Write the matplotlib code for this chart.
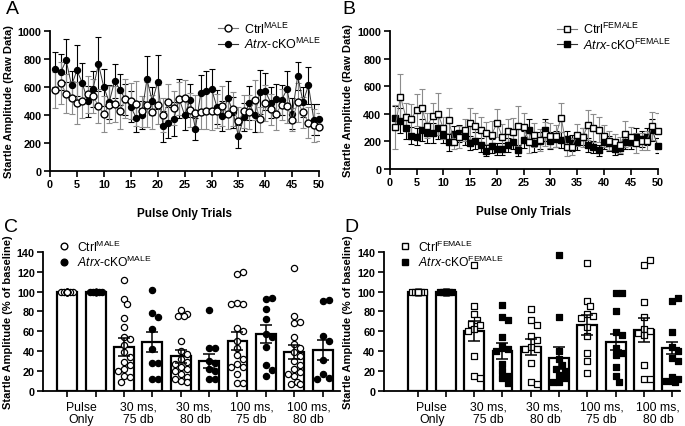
import numpy as np
import matplotlib
matplotlib.use("Agg")
import matplotlib.pyplot as plt
from matplotlib.lines import Line2D

plt.rcParams['font.family'] = ['Liberation Sans', 'DejaVu Sans']
plt.rcParams['mathtext.fontset'] = 'custom'
plt.rcParams['mathtext.rm'] = 'Liberation Sans'
plt.rcParams['mathtext.it'] = 'Liberation Sans:italic'
plt.rcParams['mathtext.bf'] = 'Liberation Sans:bold'

# ---- panel A / B : pulse only trials (raw data) ----
trials = list(range(1, 51))

ctrl_m = [580, 630, 552, 524, 488, 500, 548, 536, 464, 407, 474, 481, 429, 517, 500,
          481, 426, 474, 421, 474, 402, 493, 452, 517, 521, 438, 414, 421, 431, 431,
          431, 464, 410, 443, 355, 426, 421, 507, 369, 488, 440, 410, 474, 464, 367,
          490, 421, 345, 326, 314]
ctrl_m_err = [130, 150, 140, 120, 150, 120, 130, 120, 120, 130, 130, 130, 130, 140, 130,
              160, 110, 160, 120, 140, 120, 130, 120, 120, 130, 120, 130, 120, 130, 140,
              120, 140, 110, 120, 100, 120, 120, 140, 90, 130, 110, 120, 110, 120, 80,
              140, 110, 110, 120, 100]
atrx_m = [726, 707, 790, 612, 719, 629, 498, 588, 764, 598, 493, 643, 581, 512, 460,
          381, 398, 655, 498, 636, 321, 345, 374, 517, 400, 505, 302, 557, 574, 588,
          457, 393, 524, 421, 248, 386, 488, 398, 564, 569, 488, 512, 507, 583, 410,
          679, 493, 612, 367, 369]
atrx_m_err = [125, 130, 155, 100, 180, 140, 110, 130, 190, 130, 120, 120, 110, 110, 110,
              100, 100, 165, 100, 190, 110, 110, 120, 140, 110, 120, 80, 130, 140, 140,
              120, 110, 120, 110, 80, 100, 120, 120, 160, 130, 110, 110, 110, 130, 110,
              100, 110, 130, 110, 110]

ctrl_f = [301, 525, 378, 361, 429, 439, 313, 381, 398, 296, 354, 193, 234, 282, 330,
          313, 284, 260, 246, 333, 234, 275, 270, 308, 304, 198, 246, 210, 253, 241,
          241, 373, 157, 161, 246, 229, 318, 296, 284, 241, 205, 193, 173, 253, 234,
          188, 200, 205, 313, 277]
ctrl_f_err = [160, 165, 100, 110, 115, 140, 90, 100, 150, 80, 90, 50, 80, 80, 110,
              90, 90, 80, 100, 100, 90, 90, 100, 145, 100, 80, 90, 80, 90, 90,
              80, 105, 60, 60, 80, 70, 110, 100, 90, 80, 70, 60, 60, 95, 70,
              70, 60, 70, 100, 130]
atrx_f = [369, 349, 294, 241, 234, 284, 260, 260, 294, 246, 193, 253, 258, 236, 186,
          205, 173, 133, 169, 145, 145, 176, 193, 137, 212, 282, 186, 205, 282, 205,
          217, 210, 217, 188, 193, 234, 176, 157, 137, 198, 186, 145, 152, 198, 198,
          234, 217, 234, 284, 169]
atrx_f_err = [90, 90, 80, 60, 60, 80, 70, 70, 80, 60, 60, 60, 60, 60, 50,
              60, 50, 40, 50, 45, 45, 50, 50, 40, 60, 80, 60, 60, 80, 60,
              60, 60, 60, 55, 55, 60, 50, 45, 40, 55, 55, 45, 45, 55, 55,
              60, 60, 60, 80, 55]

# ---- panel C / D : % of baseline ----
groups = ['Pulse\nOnly', '30 ms,\n75 db', '30 ms,\n80 db', '100 ms,\n75 db', '100 ms,\n80 db']

c_ctrl_mean = [100, 44, 35, 50, 39]
c_ctrl_sem = [0, 9, 6.5, 9, 7]
c_atrx_mean = [100, 49, 30, 57, 41]
c_atrx_sem = [0, 10, 7, 9, 10]
c_ctrl_pts = [
    [100, 100, 100, 100, 100, 100, 100, 100, 100, 100, 100, 100, 100, 100, 100, 100, 100],
    [112, 93, 87, 73, 64, 54, 52, 46, 39, 34, 29, 26, 22, 20, 15, 14, 9],
    [81, 77, 75, 75, 50, 40, 37, 32, 29, 27, 24, 22, 20, 17, 14, 12, 10, 9],
    [118, 120, 88, 87, 87, 63, 60, 50, 43, 36, 32, 27, 24, 24, 17, 8, 8],
    [124, 75, 68, 69, 54, 47, 43, 39, 35, 30, 26, 22, 19, 17, 15, 9, 7, 7],
]
c_atrx_pts = [
    [100, 100, 100, 100, 100, 100, 100, 100, 100, 100],
    [102, 78, 74, 62, 42, 28, 28, 12, 12],
    [81, 43, 43, 30, 28, 22, 20, 12, 12],
    [93, 94, 82, 72, 57, 54, 44, 26, 21, 15],
    [91, 92, 55, 50, 31, 17, 13, 12],
]

d_ctrl_mean = [100, 60, 44, 66, 61]
d_ctrl_sem = [0, 10, 8, 10, 12]
d_atrx_mean = [100, 40, 33, 49, 43]
d_atrx_sem = [0, 8, 11, 8, 6]
d_ctrl_pts = [
    [100, 100, 100, 100, 100, 100, 100, 100, 100, 100, 100],
    [127, 85, 77, 71, 67, 66, 62, 60, 35, 15, 13],
    [82, 71, 66, 55, 51, 44, 42, 42, 28, 9, 7],
    [129, 91, 85, 77, 75, 73, 64, 55, 38, 30, 18],
    [127, 132, 89, 74, 62, 60, 58, 56, 26, 12, 12],
]
d_atrx_pts = [
    [100, 100, 100, 100, 100, 100, 100, 100, 100, 100, 100, 100],
    [86, 74, 71, 54, 45, 42, 40, 27, 20, 15, 13, 8],
    [137, 74, 40, 32, 26, 22, 20, 16, 13, 9, 9],
    [99, 99, 80, 59, 56, 43, 38, 36, 24, 15, 9],
    [91, 94, 59, 44, 40, 33, 30, 14, 12, 10, 10, 9],
]


def swarm(vals, xpx, ypx, d=6.0, maxoff=0.3):
    # simple beeswarm, offsets in x data units
    step = d / 2.0
    lim = maxoff * xpx
    cands = [0.0]
    k = 1
    while k * step <= lim:
        cands += [k * step, -k * step]
        k += 1
    placed = []
    offs = []
    for v in vals:
        y = v * ypx
        best, bestd = 0.0, -1
        for c in cands:
            md = min([np.hypot(c - px, y - py) for px, py in placed] + [1e9])
            if md >= d:
                best = c
                break
            if md > bestd:
                best, bestd = c, md
        placed.append((best, y))
        offs.append(best / xpx)
    return np.array(offs)


fig = plt.figure(figsize=(6.85, 4.27), dpi=100)


def style_axes(ax):
    for s in ['top', 'right']:
        ax.spines[s].set_visible(False)
    for s in ['left', 'bottom']:
        ax.spines[s].set_linewidth(1.3)
    ax.tick_params(direction='out', length=4, width=1.2, labelsize=7.8, pad=2)
    for lab in ax.get_yticklabels():
        lab.set_fontweight('bold')


def line_panel(ax, ctrl, ctrl_err, atrx, atrx_err, mk, sex):
    ax.errorbar(trials, atrx, yerr=atrx_err, fmt='none', ecolor='black',
                elinewidth=0.8, capsize=2, capthick=0.8, zorder=2)
    ax.errorbar(trials, ctrl, yerr=ctrl_err, fmt='none', ecolor='#8c8c8c',
                elinewidth=0.8, capsize=2, capthick=0.8, zorder=2)
    ax.plot(trials, atrx, color='#333333', lw=0.7, marker=mk, ms=4.3,
            mfc='black', mec='black', zorder=3, clip_on=False)
    ax.plot(trials, ctrl, color='#777777', lw=0.7, marker=mk, ms=5,
            mfc='white', mec='black', mew=1, zorder=4, clip_on=False)
    ax.set_xlim(0, 50)
    ax.set_ylim(0, 1000)
    ax.set_xticks(range(0, 51, 5))
    ax.set_yticks(range(0, 1001, 200))
    style_axes(ax)
    for lab in ax.get_xticklabels():
        lab.set_fontweight('bold')
    ax.set_xlabel('Pulse Only Trials', fontsize=8.5, fontweight='bold', labelpad=13)
    ax.set_ylabel('Startle Amplitude (Raw Data)', fontsize=8, fontweight='bold', labelpad=3)
    h = [Line2D([], [], color='#777777', lw=0.8, marker=mk, ms=5, mfc='white', mec='black'),
         Line2D([], [], color='#333333', lw=0.8, marker=mk, ms=4.3, mfc='black', mec='black')]
    labs = [r'Ctrl$^{\mathrm{%s}}$' % sex, r'$\mathit{Atrx}$-cKO$^{\mathrm{%s}}$' % sex]
    ax.legend(h, labs, loc='upper left', bbox_to_anchor=(0.6, 1.12), frameon=False,
              fontsize=9, handlelength=1.6, handletextpad=0.5, labelspacing=0.05,
              borderpad=0)


def bar_panel(ax, cm, cs, am, asem, cpts, apts, mk, sex, xlim):
    xpx = 28.4
    ypx = 139 / 140.0
    pos = np.arange(10)
    cpos = pos[0::2]
    apos = pos[1::2]
    ax.bar(cpos, cm, width=0.7, color='white', edgecolor='black', lw=1.6, zorder=1)
    ax.bar(apos, am, width=0.7, color='white', edgecolor='black', lw=1.6, zorder=1)
    for i in range(5):
        vals = np.array(cpts[i])
        off = swarm(vals, xpx, ypx)
        ax.scatter(cpos[i] + off, vals, s=20, marker=mk, facecolor='white',
                   edgecolor='black', lw=0.9, zorder=3, clip_on=False)
        vals = np.array(apts[i])
        off = swarm(vals, xpx, ypx)
        ax.scatter(apos[i] + off, vals, s=20, marker=mk, facecolor='black',
                   edgecolor='black', lw=0.9, zorder=3, clip_on=False)
    ax.errorbar(cpos[1:], cm[1:], yerr=cs[1:], fmt='none', ecolor='black',
                elinewidth=1.1, capsize=4, capthick=1.1, zorder=4)
    ax.errorbar(apos[1:], am[1:], yerr=asem[1:], fmt='none', ecolor='black',
                elinewidth=1.1, capsize=4, capthick=1.1, zorder=4)
    ax.set_xlim(*xlim)
    ax.set_ylim(0, 140)
    ax.set_yticks(range(0, 141, 20))
    ax.set_xticks(pos, minor=True)
    ax.set_xticks((cpos + apos) / 2.0)
    ax.set_xticklabels(groups, linespacing=1.05)
    style_axes(ax)
    ax.tick_params(axis='x', which='major', length=0, pad=7, labelsize=8.8)
    ax.tick_params(axis='x', which='minor', length=4, width=1.2)
    ax.set_ylabel('Startle Amplitude (% of baseline)', fontsize=8, fontweight='bold', labelpad=3)
    h = [Line2D([], [], ls='none', marker=mk, ms=4.8, mfc='white', mec='black'),
         Line2D([], [], ls='none', marker=mk, ms=4.8, mfc='black', mec='black')]
    labs = [r'Ctrl$^{\mathrm{%s}}$' % sex, r'$\mathit{Atrx}$-cKO$^{\mathrm{%s}}$' % sex]
    ax.legend(h, labs, loc='upper left', bbox_to_anchor=(0.03, 1.14), frameon=False,
              fontsize=8.7, handlelength=1.0, handletextpad=0.6, labelspacing=0.0,
              borderpad=0)


axA = fig.add_axes([0.073, 0.597, 0.393, 0.328])
line_panel(axA, ctrl_m, ctrl_m_err, atrx_m, atrx_m_err, 'o', 'MALE')
axB = fig.add_axes([0.569, 0.602, 0.391, 0.323])
line_panel(axB, ctrl_f, ctrl_f_err, atrx_f, atrx_f_err, 's', 'FEMALE')

axC = fig.add_axes([0.063, 0.082, 0.434, 0.326])
bar_panel(axC, c_ctrl_mean, c_ctrl_sem, c_atrx_mean, c_atrx_sem,
          c_ctrl_pts, c_atrx_pts, 'o', 'MALE', (-0.85, 9.63))
axD = fig.add_axes([0.560, 0.082, 0.433, 0.326])
bar_panel(axD, d_ctrl_mean, d_ctrl_sem, d_atrx_mean, d_atrx_sem,
          d_ctrl_pts, d_atrx_pts, 's', 'FEMALE', (-1.2, 9.28))

for x, y, t in [(0.008, 0.998, 'A'), (0.500, 0.998, 'B'), (0.006, 0.487, 'C'), (0.503, 0.487, 'D')]:
    fig.text(x, y, t, fontsize=14, va='top', ha='left')

fig.savefig('out.png', dpi=100)
